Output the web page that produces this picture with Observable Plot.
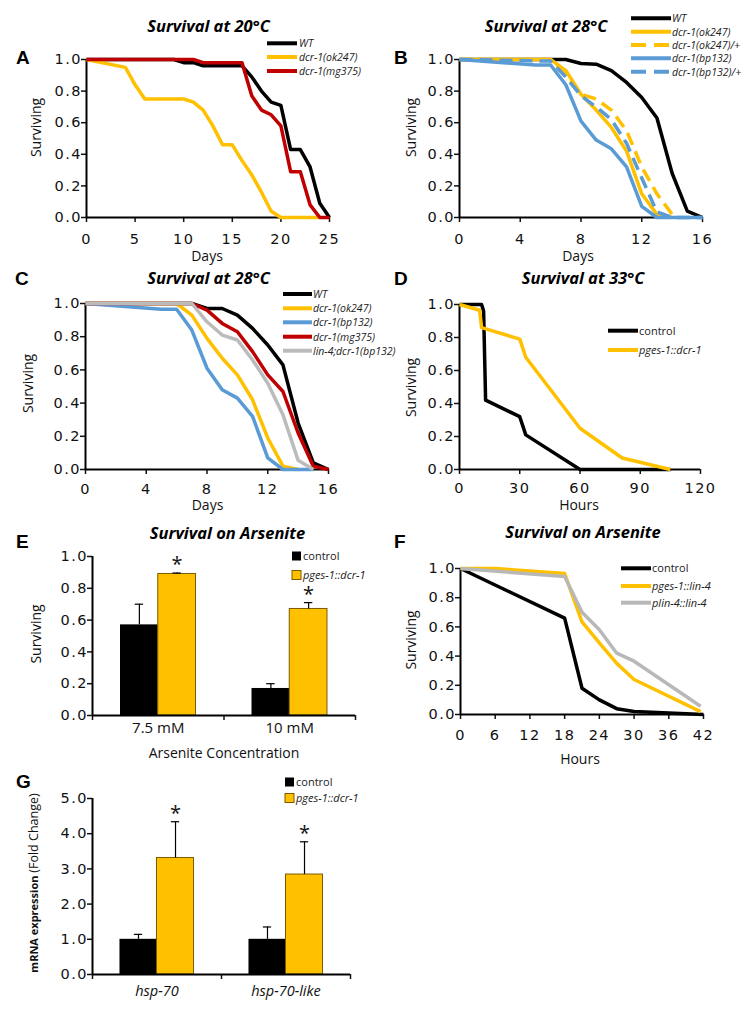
<!DOCTYPE html>
<html><head><meta charset="utf-8">
<script src="https://cdn.jsdelivr.net/npm/d3@7"></script>
<script src="https://cdn.jsdelivr.net/npm/@observablehq/plot@0.6"></script>
<style>
html,body{margin:0;padding:0;background:#fff;}
#root{position:relative;width:756px;height:1020px;overflow:hidden;background:#fff;font-family:"Open Sans",sans-serif;}
#root svg{position:absolute;overflow:visible;}
.numy g[aria-label="y-axis tick label"], .numx g[aria-label="x-axis tick label"]{letter-spacing:1.5px;font-family:"DejaVu Sans",sans-serif;}
</style></head><body><div id="root"></div>
<script>
// ---------------- DATA ----------------
const survTicks = [0, 0.2, 0.4, 0.6, 0.8, 1.0];
const aTicks = [0, 5, 10, 15, 20, 25];
const bTicks = [0, 4, 8, 12, 16];
const cTicks = [0, 4, 8, 12, 16];
const dTicks = [0, 30, 60, 90, 120];
const fTicks = [0, 6, 12, 18, 24, 30, 36, 42];

// Panel A (days)
const aWTx = [0,9,10,11,12,16,17,18,19,20,21,22,23,24,25];
const aWTy = [1,1,0.98,0.98,0.96,0.96,0.89,0.80,0.73,0.71,0.43,0.43,0.32,0.09,0];
const aOkx = [0,4,5,6,10,11,12,13,14,15,16,17,18,19,20,24];
const aOky = [1,0.95,0.84,0.75,0.75,0.73,0.68,0.58,0.46,0.46,0.36,0.27,0.16,0.04,0,0];
const aMgx = [0,11,12,16,17,18,19,20,21,22,23,24,25];
const aMgy = [1,1,0.98,0.98,0.77,0.68,0.65,0.58,0.29,0.29,0.08,0,0];

// Panel B
const bWTx = [0,7,8,9,10,11,12,13,14,15,16];
const bWTy = [1,1,0.975,0.97,0.93,0.855,0.76,0.63,0.28,0.04,0];
const bOkx = [0,6,7,8,9,10,11,12,13,14];
const bOky = [1,1,0.93,0.78,0.68,0.57,0.42,0.15,0.02,0];
const bOkHx = [0,6,7,8,9,10,11,12,13,14];
const bOkHy = [1,1,0.9,0.78,0.75,0.68,0.55,0.32,0.15,0.02];
const bBpx = [0,5,6,7,8,9,10,11,12,13,16];
const bBpy = [1,0.965,0.965,0.84,0.61,0.49,0.435,0.32,0.07,0,0];
const bBpHx = [0,6,7,8,9,10,11,12,13,14,16];
const bBpHy = [1,0.99,0.89,0.77,0.70,0.62,0.47,0.25,0.035,0,0];

// Panel C
const cWTx = [0,7,8,9,10,11,12,13,14,15,16];
const cWTy = [1,1,0.97,0.97,0.93,0.85,0.75,0.63,0.28,0.04,0];
const cOkx = [0,6,7,8,9,10,11,12,13,14];
const cOky = [1,1,0.93,0.79,0.67,0.57,0.42,0.19,0.02,0];
const cBpx = [0,5,6,7,8,9,10,11,12,13,15];
const cBpy = [1,0.965,0.965,0.84,0.61,0.48,0.43,0.32,0.07,0,0];
const cMgx = [0,7,8,9,10,11,12,13,14,15,16];
const cMgy = [1,1,0.96,0.88,0.83,0.71,0.57,0.47,0.22,0.02,0];
const cLinx = [0,7,8,9,10,11,12,13,14,15];
const cLiny = [1,1,0.89,0.81,0.78,0.66,0.52,0.33,0.055,0];

// Panel D (hours)
const dCtlx = [0,11,12,13,30,33,60,105];
const dCtly = [1,1,0.96,0.42,0.32,0.21,0,0];
const dTrtx = [0,10,11,30,33,60,81,105];
const dTrty = [1,0.965,0.86,0.79,0.68,0.25,0.07,0];

// Panel E (bars)
const eCats = ["7.5 mM", "10 mM"];
const eCtl = [0.57, 0.17];
const eCtlErr = [0.13, 0.03];
const eTrt = [0.89, 0.67];
const eTrtErr = [0.006, 0.04];
const eSig = [true, true];
const eTicks = [0, 0.2, 0.4, 0.6, 0.8, 1.0];

// Panel F (hours)
const fCtlx = [0,18,21,24,27,30,42];
const fCtly = [1,0.66,0.18,0.10,0.04,0.02,0];
const fPgx = [0,6,18,21,24,27,30,41.5];
const fPgy = [1,1,0.965,0.635,0.49,0.35,0.24,0.02];
const fPlx = [0,18,21,24,27,30,41.5];
const fPly = [1,0.945,0.70,0.58,0.42,0.365,0.057];

// Panel G (bars)
const gCats = ["hsp-70", "hsp-70-like"];
const gCtl = [1.0, 1.0];
const gCtlErr = [0.14, 0.35];
const gTrt = [3.31, 2.84];
const gTrtErr = [1.03, 0.93];
const gSig = [true, true];
const gTicks = [0, 1, 2, 3, 4, 5];

// ---------------- STYLE ----------------
const BLACK = "#000000", YEL = "#FFC000", RED = "#C00000", BLUE = "#5B9BD5", GRAY = "#BBBBBB", GRAYF = "#B8B8B8";
const DASH = "13,7";
const fmt1 = d3.format(".1f");
const root = document.getElementById("root");
const FONT = "'Open Sans', sans-serif";
const TICKFS = 14.5;

function place(svg, left, top, classes) {
  svg.style.left = left + "px";
  svg.style.top = top + "px";
  classes.forEach(c => svg.classList.add(c));
  root.appendChild(svg);
}

function survival(cfg, ticks, series) {
  const mt = 10, mb = 50;
  const svg = Plot.plot({
    width: 378, height: cfg.fb - cfg.ft + mt + mb,
    marginTop: mt, marginBottom: mb,
    marginLeft: cfg.fl - cfg.col, marginRight: cfg.col + 378 - cfg.fr,
    style: `background:transparent;overflow:visible;font-family:${FONT};color:#111;`,
    x: {domain: [ticks[0], ticks[ticks.length - 1]]},
    y: {domain: [0, 1]},
    marks: [
      Plot.axisY({ticks: survTicks, tickFormat: fmt1, tickSize: 5, tickPadding: -0.5, fontSize: TICKFS, label: null, strokeWidth: 1.5}),
      Plot.axisX({ticks, tickSize: 5, tickPadding: cfg.xpad, fontSize: TICKFS, label: null, strokeWidth: 1.5}),
      Plot.ruleX([ticks[0]], {strokeWidth: 2, stroke: "#000"}),
      Plot.ruleY([0], {strokeWidth: 2, stroke: "#000"}),
      ...series.map(s => Plot.line(s.x.map((v, i) => ({x: v, y: s.y[i]})),
        {x: "x", y: "y", stroke: s.color, strokeWidth: 3.5, strokeDasharray: s.dash, strokeLinejoin: "round", strokeLinecap: "butt"}))
    ]
  });
  place(svg, cfg.col, cfg.ft - mt, ["numy", "numx"]);
}

function bars(cfg, cats, ctl, ctlErr, trt, trtErr, sig, yTicks, italic) {
  const mt = 10, mb = 50;
  const half = 0.287, cap = 0.032;
  const rows = cats.flatMap((c, i) => [
    {i, g: 0, v: ctl[i], e: ctlErr[i], s: false},
    {i, g: 1, v: trt[i], e: trtErr[i], s: sig[i]}
  ]);
  const cx = d => d.i + 0.5 + (d.g ? half / 2 : -half / 2);
  const svg = Plot.plot({
    width: 378, height: cfg.fb - cfg.ft + mt + mb,
    marginTop: mt, marginBottom: mb,
    marginLeft: cfg.fl - cfg.col, marginRight: cfg.col + 378 - cfg.fr,
    style: `background:transparent;overflow:visible;font-family:${FONT};color:#111;`,
    x: {type: "linear", domain: [0, cats.length]},
    y: {domain: [yTicks[0], yTicks[yTicks.length - 1]]},
    marks: [
      Plot.axisY({ticks: yTicks, tickFormat: fmt1, tickSize: 5, tickPadding: -0.5, fontSize: TICKFS, label: null, strokeWidth: 1.5}),
      Plot.axisX({ticks: d3.range(cats.length + 1), tickFormat: () => "", tickSize: 5, label: null, strokeWidth: 1.5}),
      Plot.axisX({ticks: cats.map((c, i) => i + 0.5), tickFormat: v => cats[Math.floor(v)], tickSize: 0,
        tickPadding: cfg.xpad, fontSize: cfg.catSize, fontStyle: italic ? "italic" : "normal", label: null}),
      Plot.rectY(rows.filter(d => !d.g), {x1: d => d.i + 0.5 - half, x2: d => d.i + 0.5, y: "v", fill: BLACK}),
      Plot.rectY(rows.filter(d => d.g), {x1: d => d.i + 0.5, x2: d => d.i + 0.5 + half, y: "v", fill: YEL, stroke: "#7a5c00", strokeWidth: 1}),
      Plot.ruleX(rows, {x: cx, y1: "v", y2: d => d.v + d.e, stroke: "#000", strokeWidth: 1.2}),
      Plot.ruleY(rows, {y: d => d.v + d.e, x1: d => cx(d) - cap, x2: d => cx(d) + cap, stroke: "#000", strokeWidth: 1.2}),
      Plot.text(rows.filter(d => d.s), {x: cx, y: d => d.v + d.e, text: () => "*", dy: -8, fontSize: 20, fill: "#111"}),
      Plot.ruleX([0], {strokeWidth: 2, stroke: "#000"}),
      Plot.ruleY([yTicks[0]], {strokeWidth: 2, stroke: "#000"})
    ]
  });
  place(svg, cfg.col, cfg.ft - mt, ["numy"]);
}

// ---------------- PANELS ----------------
survival({col: 0, fl: 86, fr: 329, ft: 59, fb: 217, xpad: 11}, aTicks, [
  {x: aWTx, y: aWTy, color: BLACK},
  {x: aOkx, y: aOky, color: YEL},
  {x: aMgx, y: aMgy, color: RED}
]);
survival({col: 378, fl: 459, fr: 702, ft: 59, fb: 217, xpad: 11}, bTicks, [
  {x: bWTx, y: bWTy, color: BLACK},
  {x: bOkx, y: bOky, color: YEL},
  {x: bOkHx, y: bOkHy, color: YEL, dash: DASH},
  {x: bBpx, y: bBpy, color: BLUE},
  {x: bBpHx, y: bBpHy, color: BLUE, dash: DASH}
]);
survival({col: 0, fl: 85, fr: 328, ft: 303, fb: 469, xpad: 9}, cTicks, [
  {x: cWTx, y: cWTy, color: BLACK},
  {x: cOkx, y: cOky, color: YEL},
  {x: cBpx, y: cBpy, color: BLUE},
  {x: cMgx, y: cMgy, color: RED},
  {x: cLinx, y: cLiny, color: GRAY}
]);
survival({col: 378, fl: 459, fr: 700, ft: 304, fb: 469, xpad: 8}, dTicks, [
  {x: dCtlx, y: dCtly, color: BLACK},
  {x: dTrtx, y: dTrty, color: YEL}
]);
bars({col: 0, fl: 92, fr: 355, ft: 556, fb: 715, xpad: 7, catSize: 15}, eCats, eCtl, eCtlErr, eTrt, eTrtErr, eSig, eTicks, false);
survival({col: 378, fl: 460, fr: 703, ft: 568, fb: 714, xpad: 10}, fTicks, [
  {x: fCtlx, y: fCtly, color: BLACK},
  {x: fPgx, y: fPgy, color: YEL},
  {x: fPlx, y: fPly, color: GRAYF}
]);
bars({col: 0, fl: 92, fr: 350, ft: 798, fb: 974, xpad: 11, catSize: 14.5}, gCats, gCtl, gCtlErr, gTrt, gTrtErr, gSig, gTicks, true);

// ---------------- TITLES, LABELS, LEGENDS ----------------
const ov = d3.create("svg").attr("width", 756).attr("height", 1020)
  .style("left", "0px").style("top", "0px").style("font-family", FONT);
root.appendChild(ov.node());

function T(x, y, str, o = {}) {
  return ov.append("text").attr("x", x).attr("y", y)
    .attr("font-size", o.size || 14).attr("font-weight", o.weight || "normal")
    .attr("font-style", o.style || "normal").attr("text-anchor", o.anchor || "start")
    .attr("font-family", o.family || FONT)
    .attr("fill", o.fill || "#111").text(str);
}
function VT(cx, cy, str, size) {
  return ov.append("text").attr("transform", `translate(${cx},${cy}) rotate(-90)`)
    .attr("text-anchor", "middle").attr("dominant-baseline", "central")
    .attr("font-size", size).attr("fill", "#111").text(str);
}
const titleOpts = {size: 16.5, weight: "bold", style: "italic", anchor: "middle", fill: "#000"};
T(208.5, 31.7, "Survival at 20°C", titleOpts);
T(546, 31.7, "Survival at 28°C", titleOpts);
T(208.5, 283.5, "Survival at 28°C", titleOpts);
T(583, 283.5, "Survival at 33°C", titleOpts);
T(227.5, 539, "Survival on Arsenite", titleOpts);
T(583, 537.7, "Survival on Arsenite", titleOpts);

const letterOpts = {size: 19, weight: "bold", family: "'Liberation Sans', Arial, sans-serif", fill: "#000"};
[["A", 16, 64], ["B", 394, 63.5], ["C", 15, 285], ["D", 394, 285], ["E", 16, 548], ["F", 394, 548], ["G", 16, 788]]
  .forEach(([l, x, y]) => T(x, y, l, letterOpts));

// axis titles
T(207, 261, "Days", {size: 14, anchor: "middle"});
T(578, 261, "Days", {size: 14, anchor: "middle"});
T(207.5, 510, "Days", {size: 14, anchor: "middle"});
T(579, 510, "Hours", {size: 14, anchor: "middle"});
T(224, 757.5, "Arsenite Concentration", {size: 14, anchor: "middle"});
T(580, 764, "Hours", {size: 14, anchor: "middle"});
VT(35, 127.5, "Surviving", 14);
VT(410, 127.5, "Surviving", 14);
VT(27, 383.5, "Surviving", 14);
VT(410, 387.5, "Surviving", 14);
VT(35, 634, "Surviving", 14);
VT(410, 640, "Surviving", 14);
const gl = ov.append("text").attr("transform", "translate(33,883) rotate(-90)")
  .attr("text-anchor", "middle").attr("dominant-baseline", "central").attr("fill", "#111");
gl.append("tspan").attr("font-weight", "bold").attr("font-size", 11).text("mRNA expression ");
gl.append("tspan").attr("font-size", 12.5).text("(Fold Change)");

function lineLegend(items, x1, x2, tx, ys, size) {
  items.forEach((it, k) => {
    ov.append("line").attr("x1", x1).attr("x2", x2).attr("y1", ys[k]).attr("y2", ys[k])
      .attr("stroke", it.color).attr("stroke-width", 4).attr("stroke-dasharray", it.dash || null);
    T(tx, ys[k] + 4, it.label, {size, style: it.italic === false ? "normal" : "italic", fill: "#222"});
  });
}
function boxLegend(items, bx, tx, ys, size) {
  items.forEach((it, k) => {
    ov.append("rect").attr("x", bx).attr("y", ys[k] - 4.5).attr("width", 9).attr("height", 9)
      .attr("fill", it.color).attr("stroke", it.stroke || "none").attr("stroke-width", 1);
    T(tx, ys[k] + 4, it.label, {size, style: it.italic ? "italic" : "normal", fill: "#222"});
  });
}
lineLegend([
  {label: "WT", color: BLACK}, {label: "dcr-1(ok247)", color: YEL}, {label: "dcr-1(mg375)", color: RED}
], 267, 297, 299, [43.3, 57, 71], 10.5);
lineLegend([
  {label: "WT", color: BLACK}, {label: "dcr-1(ok247)", color: YEL}, {label: "dcr-1(ok247)/+", color: YEL, dash: "15,8"},
  {label: "dcr-1(bp132)", color: BLUE}, {label: "dcr-1(bp132)/+", color: BLUE, dash: "15,8"}
], 631, 671, 672, [18.3, 31.7, 45, 58.3, 71.7], 10.5);
lineLegend([
  {label: "WT", color: BLACK}, {label: "dcr-1(ok247)", color: YEL}, {label: "dcr-1(bp132)", color: BLUE},
  {label: "dcr-1(mg375)", color: RED}, {label: "lin-4;dcr-1(bp132)", color: GRAY}
], 283, 312, 313, [294, 308.3, 322.3, 336.7, 350.7], 10.5);
lineLegend([
  {label: "control", color: BLACK, italic: false}, {label: "pges-1::dcr-1", color: YEL}
], 608, 638, 639, [330.7, 350], 11);
lineLegend([
  {label: "control", color: BLACK, italic: false}, {label: "pges-1::lin-4", color: YEL}, {label: "plin-4::lin-4", color: GRAYF}
], 621, 651, 652, [568.3, 586, 602.7], 11);
boxLegend([
  {label: "control", color: BLACK}, {label: "pges-1::dcr-1", color: YEL, stroke: "#7a5c00", italic: true}
], 292, 303, [556, 575], 11);
boxLegend([
  {label: "control", color: BLACK}, {label: "pges-1::dcr-1", color: YEL, stroke: "#7a5c00", italic: true}
], 285, 296, [782, 798], 11);
</script></body></html>
